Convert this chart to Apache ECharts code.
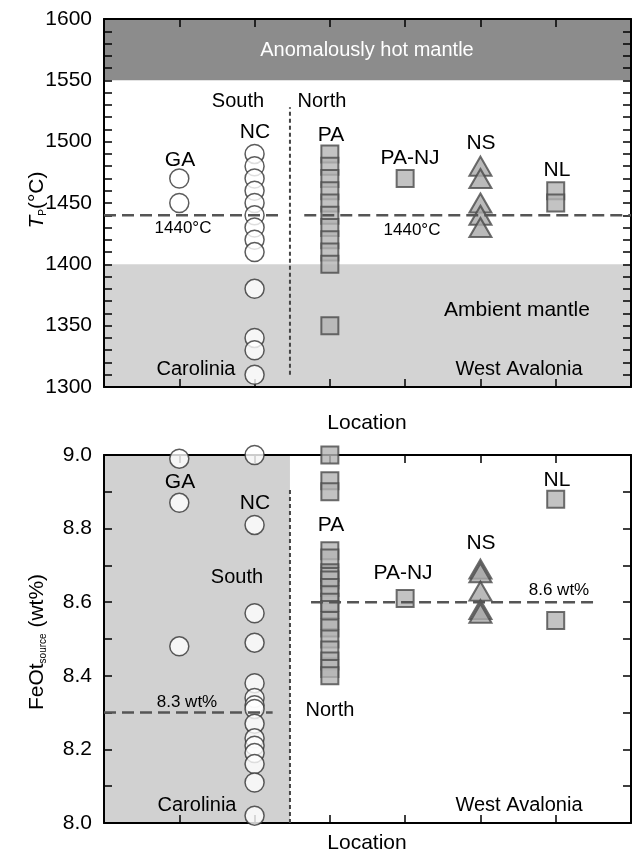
<!DOCTYPE html>
<html>
<head>
<meta charset="utf-8">
<script src="https://cdn.jsdelivr.net/npm/echarts@6/dist/echarts.min.js"></script>
<style>
html,body{margin:0;padding:0;background:#fff;}
#chart{width:636px;height:853px;}
</style>
</head>
<body>
<div id="chart"></div>
<script>
// ---------- DATA ----------
const locations = ['GA', 'NC', 'PA', 'PA-NJ', 'NS', 'NL']; // x = 1..6

// Top panel: mantle potential temperature Tp (°C)
const tpGA   = [1470, 1450];
const tpNC   = [1490, 1480, 1470, 1460, 1450, 1440, 1430, 1420, 1410, 1380, 1340, 1330, 1310];
const tpPA   = [1490, 1480, 1470, 1460, 1450, 1440, 1430, 1420, 1410, 1400, 1350];
const tpPANJ = [1470];
const tpNS   = [1480, 1470, 1450, 1440, 1430];
const tpNL   = [1460, 1450];

// Bottom panel: FeOt source (wt%)
const feGA   = [8.99, 8.87, 8.48];
const feNC   = [9.00, 8.81, 8.57, 8.49, 8.38, 8.34, 8.32, 8.31, 8.27, 8.23, 8.21, 8.19, 8.16, 8.11, 8.02];
const fePA   = [9.00, 8.93, 8.90, 8.74, 8.72, 8.68, 8.67, 8.66, 8.64, 8.62, 8.60, 8.58, 8.55, 8.53, 8.50, 8.47, 8.44, 8.42, 8.40];
const fePANJ = [8.61];
const feNS   = [8.69, 8.68, 8.63, 8.58, 8.57];
const feNL   = [8.88, 8.55];

// reference averages
const tpMean = 1440;
const feMeanSouth = 8.3;
const feMeanNorth = 8.6;
// mantle bands (°C)
const hotBand = [1550, 1600];
const ambientBand = [1300, 1400];
// South / North divide (x position between NC and PA)
const divideX = 2.47;

// ---------- HELPERS ----------
const FONT = 'Liberation Sans, Arial, sans-serif';
const TICK = '#000';
const pts = (cat, arr) => arr.map(v => [locations.indexOf(cat) + 1, v]);

const circleStyle = {color: '#ffffff', borderColor: '#333333', borderWidth: 1.5};
const squareStyle = {color: '#b4b4b4', borderColor: '#4a4a4a', borderWidth: 2};
const triStyle = {color: '#a9a9a9', borderColor: '#4a4a4a', borderWidth: 2};

function scatter(gi, data, symbol, size, style) {
  return {type: 'scatter', xAxisIndex: gi * 2, yAxisIndex: gi * 2, data: data, zlevel: 2,
    symbol: symbol, symbolSize: size, itemStyle: style, z: 4, silent: true, animation: false};
}
function refLine(gi, data, dash, width, color) {
  return {type: 'line', xAxisIndex: gi * 2, yAxisIndex: gi * 2, data: data, symbol: 'none', zlevel: 2,
    lineStyle: {type: dash, width: width, color: color}, z: 5, silent: true, animation: false};
}

const grids = [
  {left: 104, top: 19, width: 527, height: 368},
  {left: 104, top: 455, width: 527, height: 368}
];

function xAxes(gi) {
  const base = {type: 'value', gridIndex: gi, min: 0, max: 7, interval: 1, zlevel: 1, z: 3,
    axisLine: {show: true, onZero: false, lineStyle: {color: '#000', width: 2}},
    axisTick: {show: true, inside: true, length: 8, lineStyle: {color: TICK, width: 1.5}},
    axisLabel: {show: false}, splitLine: {show: false}};
  return [Object.assign({}, base, {position: 'bottom'}), Object.assign({}, base, {position: 'top'})];
}
function yAxes(gi, min, max, interval, minorSplit, fmt) {
  const base = {type: 'value', gridIndex: gi, min: min, max: max, interval: interval, zlevel: 1, z: 3,
    axisLine: {show: true, onZero: false, lineStyle: {color: '#000', width: 2}},
    axisTick: {show: true, inside: true, length: 8, lineStyle: {color: TICK, width: 1.5}},
    minorTick: {show: true, splitNumber: minorSplit, length: 8, lineStyle: {color: TICK, width: 1.5}},
    splitLine: {show: false}, minorSplitLine: {show: false}};
  return [
    Object.assign({}, base, {position: 'left',
      axisLabel: {show: true, fontSize: 21, color: '#000', fontFamily: FONT, margin: 12, formatter: fmt}}),
    Object.assign({}, base, {position: 'right', axisLabel: {show: false}})
  ];
}

const txt = (x, y, text, size, color, extra) => Object.assign({
  type: 'text', x: x, y: y, silent: true, z: 10,
  style: {text: text, fontSize: size, fontFamily: FONT, fill: color || '#000', align: 'center', verticalAlign: 'middle'}
}, extra || {});

const option = {
  animation: false,
  backgroundColor: '#fff',
  grid: grids,
  xAxis: [...xAxes(0), ...xAxes(1)],
  yAxis: [...yAxes(0, 1300, 1600, 50, 5, v => String(v)), ...yAxes(1, 8.0, 9.0, 0.2, 2, v => v.toFixed(1))],
  series: [
    // bands
    {type: 'scatter', xAxisIndex: 0, yAxisIndex: 0, data: [], z: 0, zlevel: 0, silent: true,
      markArea: {silent: true, data: [
        [{coord: [0, hotBand[0]], itemStyle: {color: '#8c8c8c'}}, {coord: [7, hotBand[1]]}],
        [{coord: [0, ambientBand[0]], itemStyle: {color: '#d3d3d3'}}, {coord: [7, ambientBand[1]]}]
      ]}},
    {type: 'scatter', xAxisIndex: 2, yAxisIndex: 2, data: [], z: 0, zlevel: 0, silent: true,
      markArea: {silent: true, data: [
        [{coord: [0, 8.0], itemStyle: {color: '#d1d1d1'}}, {coord: [divideX, 9.0]}]
      ]}},
    // top panel points
    scatter(0, [...pts('GA', tpGA), ...pts('NC', tpNC)], 'circle', 19, circleStyle),
    scatter(0, [...pts('PA', tpPA), ...pts('PA-NJ', tpPANJ), ...pts('NL', tpNL)], 'rect', 17, squareStyle),
    scatter(0, pts('NS', tpNS), 'triangle', [22, 19], triStyle),
    // bottom panel points
    scatter(1, [...pts('GA', feGA), ...pts('NC', feNC)], 'circle', 19, circleStyle),
    scatter(1, [...pts('PA', fePA), ...pts('PA-NJ', fePANJ), ...pts('NL', feNL)], 'rect', 17, squareStyle),
    scatter(1, pts('NS', feNS), 'triangle', [22, 19], triStyle),
    // reference lines
    refLine(0, [[0, tpMean], [2.38, tpMean]], [12, 6], 2.5, '#555'),
    refLine(0, [[2.66, tpMean], [7, tpMean]], [12, 6], 2.5, '#555'),
    refLine(0, [[divideX, 1310], [divideX, 1528]], [4, 3], 2, '#444'),
    refLine(1, [[0, feMeanSouth], [2.24, feMeanSouth]], [12, 6], 2.5, '#555'),
    refLine(1, [[2.75, feMeanNorth], [6.56, feMeanNorth]], [12, 6], 2.5, '#555'),
    refLine(1, [[divideX, 8.0], [divideX, 8.91]], [4, 3], 2, '#444')
  ],
  graphic: [
    // top panel
    txt(367, 50, 'Anomalously hot mantle', 20, '#ffffff'),
    txt(238, 101, 'South', 20), txt(322, 101, 'North', 20),
    txt(180, 160, 'GA', 21), txt(255, 132, 'NC', 21), txt(331, 135, 'PA', 21),
    txt(410, 158, 'PA-NJ', 21), txt(481, 143, 'NS', 21), txt(557, 170, 'NL', 21),
    txt(183, 228, '1440°C', 17), txt(412, 230, '1440°C', 17),
    txt(517, 310, 'Ambient mantle', 21),
    txt(196, 369, 'Carolinia', 20), txt(519, 369, 'West Avalonia', 20),
    txt(367, 423, 'Location', 21),
    // bottom panel
    txt(180, 482, 'GA', 21), txt(255, 503, 'NC', 21), txt(331, 525, 'PA', 21),
    txt(403, 573, 'PA-NJ', 21), txt(481, 543, 'NS', 21), txt(557, 480, 'NL', 21),
    txt(237, 577, 'South', 20), txt(330, 710, 'North', 20),
    txt(187, 702, '8.3 wt%', 17), txt(559, 590, '8.6 wt%', 17),
    txt(197, 805, 'Carolinia', 20), txt(519, 805, 'West Avalonia', 20),
    txt(367, 843, 'Location', 21),
    // y-axis titles
    {type: 'text', x: 36, y: 200, rotation: Math.PI / 2, silent: true, z: 10,
      style: {text: '{i|T}{s|P}{n|(°C)}', align: 'center', verticalAlign: 'middle', fill: '#000',
        rich: {
          i: {fontSize: 21, fontStyle: 'italic', fontFamily: FONT, fill: '#000', lineHeight: 24, verticalAlign: 'bottom'},
          s: {fontSize: 10, fontFamily: FONT, fill: '#000', lineHeight: 24, verticalAlign: 'bottom'},
          n: {fontSize: 21, fontFamily: FONT, fill: '#000', lineHeight: 24, verticalAlign: 'bottom'}
        }}},
    {type: 'text', x: 36, y: 642, rotation: Math.PI / 2, silent: true, z: 10,
      style: {text: '{n|FeOt}{s|source}{n| (wt%)}', align: 'center', verticalAlign: 'middle', fill: '#000',
        rich: {
          s: {fontSize: 10, fontFamily: FONT, fill: '#000', lineHeight: 24, verticalAlign: 'bottom'},
          n: {fontSize: 21, fontFamily: FONT, fill: '#000', lineHeight: 24, verticalAlign: 'bottom'}
        }}}
  ]
};

const chart = echarts.init(document.getElementById('chart'), null, {renderer: 'canvas'});
chart.setOption(option);
</script>
</body>
</html>
